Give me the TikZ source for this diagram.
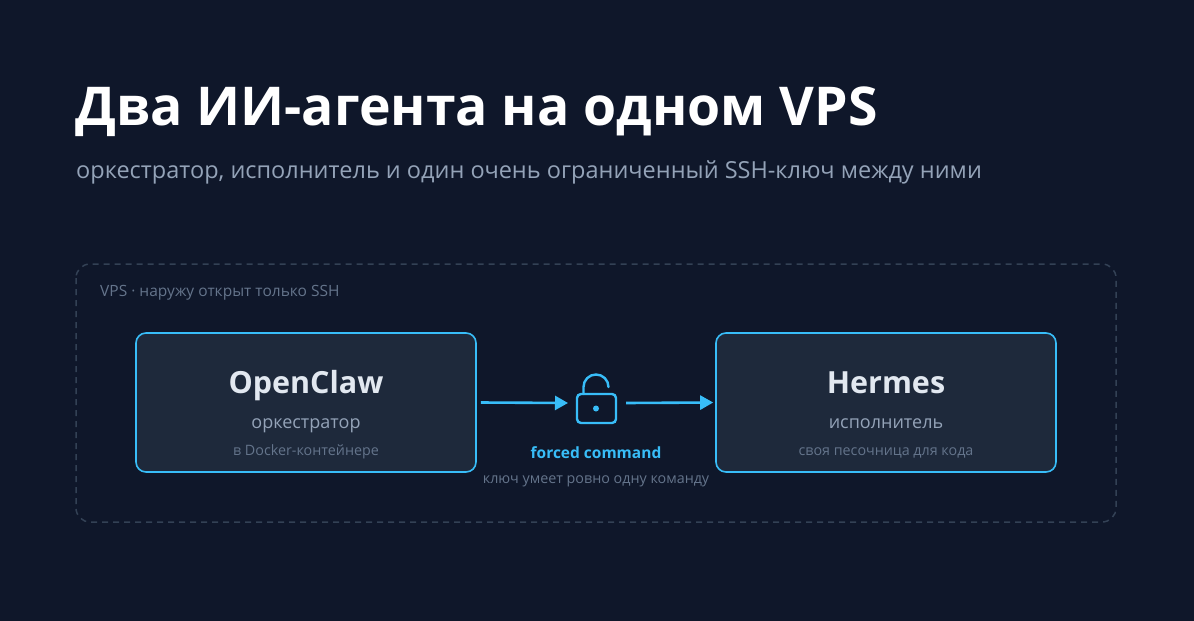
\documentclass[tikz,border=0pt]{standalone}
\usepackage{fontspec}
\setmainfont{Open Sans}
\usetikzlibrary{arrows.meta}
\definecolor{bg}{HTML}{0F172A}
\definecolor{boxf}{HTML}{1E293B}
\definecolor{acc}{HTML}{38BDF8}
\definecolor{txt}{HTML}{E2E8F0}
\definecolor{sub}{HTML}{94A3B8}
\definecolor{dim}{HTML}{64748B}
\definecolor{dashc}{HTML}{334155}
\begin{document}
\begin{tikzpicture}[x=1pt,y=-1pt,
  box/.style={draw=acc,fill=boxf,line width=1.6pt,rounded corners=10pt,minimum width=340pt,minimum height=139pt,inner sep=0pt},
  lbl/.style={anchor=base,inner sep=0pt},
  arr/.style={draw=acc,line width=2.6pt,-{Triangle[length=13pt,width=14pt]}}]
\fill[bg] (0,0) rectangle (1194,621);
\useasboundingbox (0,0) rectangle (1194,621);
\node[lbl,anchor=base west,text=white,font=\fontsize{53.5}{60}\selectfont\bfseries] (title) at (75,125) {Два ИИ-агента на одном VPS};
\node[lbl,anchor=base west,text=sub,font=\fontsize{23.5}{28}\selectfont] (subt) at (76,178) {оркестратор, исполнитель и один очень ограниченный SSH-ключ между ними};
\draw[dashc,line width=1.5pt,dash pattern=on 6pt off 5pt,rounded corners=14pt] (76,264) rectangle (1116,522);
\node[lbl,anchor=base west,text=dim,font=\fontsize{15.5}{18}\selectfont] (vps) at (100,296) {VPS · наружу открыт только SSH};
\node[box] (oc) at (306,402.5) {};
\node[box] (he) at (886,402.5) {};
\node[lbl,text=txt,font=\fontsize{30.5}{36}\selectfont\bfseries] at (306,393) {OpenClaw};
\node[lbl,text=sub,font=\fontsize{18}{22}\selectfont] at (306,428) {оркестратор};
\node[lbl,text=dim,font=\fontsize{14.3}{17}\selectfont] at (306,455) {в Docker-контейнере};
\node[lbl,text=txt,font=\fontsize{30.5}{36}\selectfont\bfseries] at (886,393) {Hermes};
\node[lbl,text=sub,font=\fontsize{18}{22}\selectfont] at (886,428) {исполнитель};
\node[lbl,text=dim,font=\fontsize{14.3}{17}\selectfont] at (886,455) {своя песочница для кода};
\coordinate (lockL) at (568,403);
\coordinate (lockR) at (626,403);
\draw[arr] (oc.east) ++(4,0) -- (lockL);
\draw[arr] (lockR) -- ([xshift=-2pt]he.west);
% lock
\draw[acc,line width=2.4pt,rounded corners=4pt] (577,394) rectangle (616,423);
\draw[acc,line width=2.4pt,line cap=round] (583.5,394) -- (583.5,387) arc[start angle=180,end angle=360,radius=12.5];
\fill[acc] (596,408.5) circle (3pt);
\node[lbl,text=acc,font=\fontsize{15.5}{18}\selectfont\bfseries] (fc) at (596,458) {forced command};
\node[lbl,text=dim,font=\fontsize{14.3}{17}\selectfont] (fcs) at (596,483) {ключ умеет ровно одну команду};
\end{tikzpicture}
\end{document}
